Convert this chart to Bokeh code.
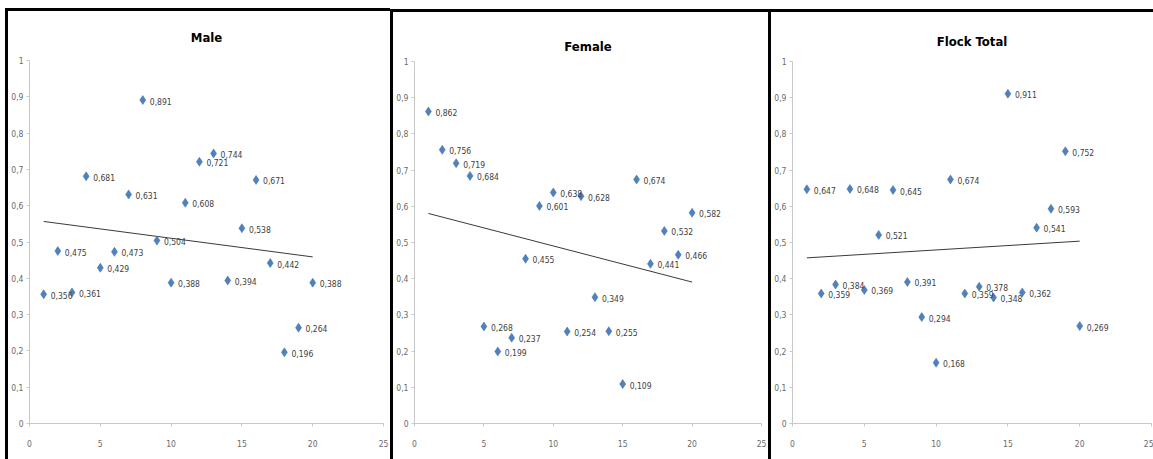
import numpy as np
from bokeh.plotting import figure
from bokeh.layouts import row
from bokeh.models import FixedTicker, CustomJSTickFormatter, ColumnDataSource, Range1d
from bokeh.embed import file_html
from bokeh.resources import INLINE
from bokeh.core.properties import value

# ---- data ----
sample_no = list(range(1, 21))
male = [0.356, 0.475, 0.361, 0.681, 0.429, 0.473, 0.631, 0.891, 0.504, 0.388,
        0.608, 0.721, 0.744, 0.394, 0.538, 0.671, 0.442, 0.196, 0.264, 0.388]
female = [0.862, 0.756, 0.719, 0.684, 0.268, 0.199, 0.237, 0.455, 0.601, 0.638,
          0.254, 0.628, 0.349, 0.255, 0.109, 0.674, 0.441, 0.532, 0.466, 0.582]
flock_total = [0.647, 0.359, 0.384, 0.648, 0.369, 0.521, 0.645, 0.391, 0.294, 0.168,
               0.674, 0.359, 0.378, 0.348, 0.911, 0.362, 0.541, 0.593, 0.752, 0.269]
titles = ["Male", "Female", "Flock Total"]
series = [male, female, flock_total]
x_ticks = [0, 5, 10, 15, 20, 25]
y_ticks = [0, 0.1, 0.2, 0.3, 0.4, 0.5, 0.6, 0.7, 0.8, 0.9, 1]

# ---- layout constants ----
panels = [
    # width, height, margin(top,right,bottom,left), min borders (l, r, t, b), title standoff
    dict(w=385, h=451, m=(8, 0, 0, 5), b=(14, 10, 48, 38), so=32),
    dict(w=378, h=450, m=(9, 0, 0, 0), b=(17, 10, 48, 39), so=15),
    dict(w=385, h=450, m=(9, 0, 0, 0), b=(19, 5, 48, 39), so=25),
]

FONT = "DejaVu Sans Condensed"
MARKER = "#4F81BD"

fmt = CustomJSTickFormatter(code="""
    const v = Math.round(tick * 10) / 10;
    return v.toString().replace('.', ',');
""")

figs = []
for title, ys, cfg in zip(titles, series, panels):
    bl, br, bt, bb = cfg["b"]
    p = figure(width=cfg["w"], height=cfg["h"], output_backend="svg",
               toolbar_location=None, x_range=Range1d(0, 25), y_range=Range1d(0, 1),
               min_border_left=bl, min_border_right=br, min_border_top=bt,
               min_border_bottom=bb, title=title)
    p.margin = cfg["m"]
    p.styles = {"border-left": "3px solid black", "border-top": "3px solid black",
                "box-sizing": "border-box"}
    p.title.align = "center"
    p.title.text_font = FONT
    p.title.text_font_style = "bold"
    p.title.text_font_size = "13px"
    p.title.text_color = "#000000"
    p.title.standoff = cfg["so"]
    p.outline_line_color = None
    p.xgrid.visible = False
    p.ygrid.visible = False
    p.background_fill_color = "white"
    p.border_fill_color = "white"

    for ax in (p.xaxis[0], p.yaxis[0]):
        ax.axis_line_color = "#C8C8C8"
        ax.major_tick_line_color = "#C8C8C8"
        ax.minor_tick_line_color = None
        ax.major_tick_in = 0
        ax.major_tick_out = 3
        ax.major_label_text_font = FONT
        ax.major_label_text_font_size = "8.5px"
        ax.major_label_text_color = "#6A6A6A"
    p.xaxis.ticker = FixedTicker(ticks=x_ticks)
    p.yaxis.ticker = FixedTicker(ticks=y_ticks)
    p.xaxis.formatter = fmt
    p.yaxis.formatter = fmt
    p.xaxis.major_label_standoff = 13
    p.yaxis.major_label_standoff = 3

    # linear trend line (least squares)
    k, b = np.polyfit(sample_no, ys, 1)
    lx = [sample_no[0], sample_no[-1]]
    p.line(lx, [k * t + b for t in lx], line_color="#3A3A3A", line_width=1)

    src = ColumnDataSource(dict(x=sample_no, y=ys,
                                lab=[f"{v:.3f}".replace(".", ",") for v in ys]))
    p.scatter("x", "y", source=src, marker="diamond", size=9,
              fill_color=MARKER, line_color="#3F6FA8", line_width=0.5)
    p.text("x", "y", text="lab", source=src, x_offset=7, y_offset=1,
           text_font=value(FONT), text_font_size="8.5px", text_color="#404040",
           text_baseline="middle", text_align="left")
    figs.append(p)

layout = row(*figs, spacing=0)
open("out.html", "w").write(file_html(layout, INLINE))
